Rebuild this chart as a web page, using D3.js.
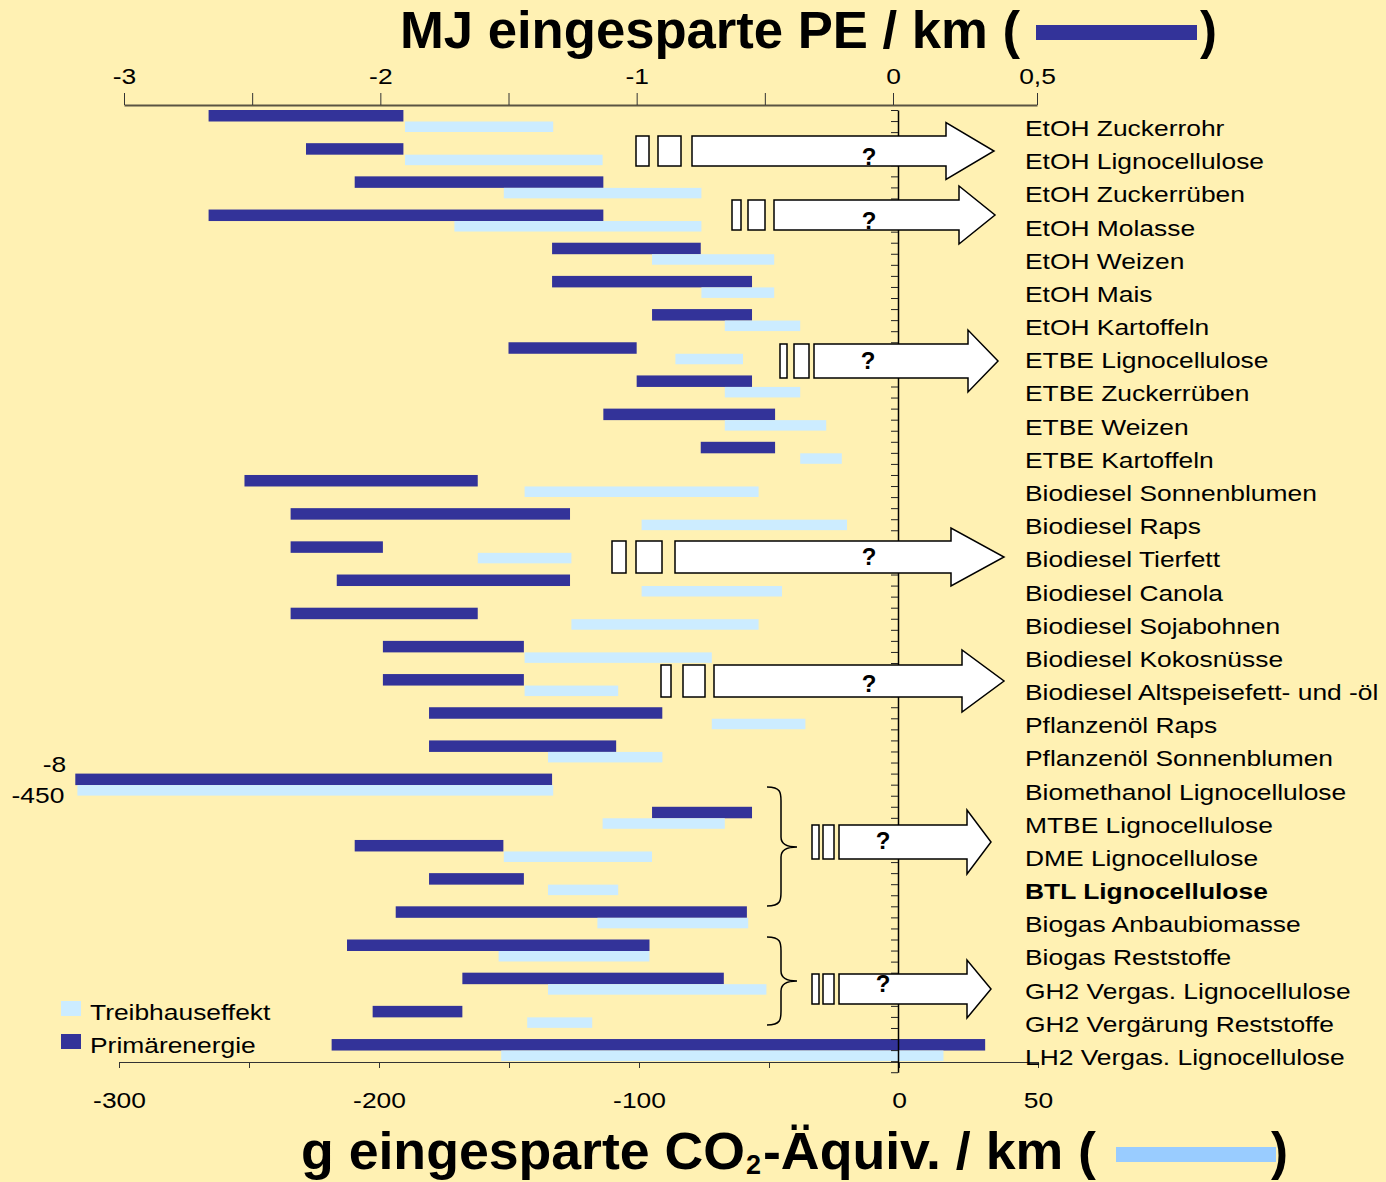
<!DOCTYPE html>
<html>
<head>
<meta charset="utf-8">
<script src="https://cdn.jsdelivr.net/npm/d3@7"></script>
<style>
  body { margin: 0; background: #fff1b3; }
  svg { display: block; }
  text { font-family: "Liberation Sans", Arial, sans-serif; fill: #000; }
</style>
</head>
<body>
<div id="chart"></div>
<script>
// categories (top to bottom)
const fuels = [
  "EtOH Zuckerrohr", "EtOH Lignocellulose", "EtOH Zuckerrüben", "EtOH Molasse",
  "EtOH Weizen", "EtOH Mais", "EtOH Kartoffeln", "ETBE Lignocellulose",
  "ETBE Zuckerrüben", "ETBE Weizen", "ETBE Kartoffeln", "Biodiesel Sonnenblumen",
  "Biodiesel Raps", "Biodiesel Tierfett", "Biodiesel Canola", "Biodiesel Sojabohnen",
  "Biodiesel Kokosnüsse", "Biodiesel Altspeisefett- und -öl", "Pflanzenöl Raps",
  "Pflanzenöl Sonnenblumen", "Biomethanol Lignocellulose", "MTBE Lignocellulose",
  "DME Lignocellulose", "BTL Lignocellulose", "Biogas Anbaubiomasse", "Biogas Reststoffe",
  "GH2 Vergas. Lignocellulose", "GH2 Vergärung Reststoffe", "LH2 Vergas. Lignocellulose"
];
const boldFuel = "BTL Lignocellulose";

// MJ eingesparte Primärenergie / km (range min..max)
const peMin = [-2.67, -2.29, -2.10, -2.67, -1.33, -1.33, -0.94, -1.50, -1.00, -1.13, -0.75,
  -2.53, -2.35, -2.35, -2.17, -2.35, -1.99, -1.99, -1.81, -1.81, -8,
  -0.94, -2.10, -1.81, -1.94, -2.13, -1.68, -2.03, -2.19];
const peMax = [-1.91, -1.91, -1.13, -1.13, -0.75, -0.55, -0.55, -1.00, -0.55, -0.46, -0.46,
  -1.62, -1.26, -1.99, -1.26, -1.62, -1.44, -1.44, -0.90, -1.08, -1.33,
  -0.55, -1.52, -1.44, -0.57, -0.95, -0.66, -1.68, 0.32];

// g eingesparte CO2-Äquivalente / km (range min..max)
const co2Min = [-190, -190, -152, -171, -95, -76, -67, -86, -67, -67, -38,
  -144, -99, -162, -99, -126, -144, -144, -72, -135, -450,
  -114, -152, -135, -116, -154, -135, -143, -153];
const co2Max = [-133, -114, -76, -76, -48, -48, -38, -60, -38, -28, -22,
  -54, -20, -126, -45, -54, -72, -108, -36, -91, -133,
  -67, -95, -108, -58, -96, -51, -118, 16];

const peTicks = [-3, -2.5, -2, -1.5, -1, -0.5, 0, 0.5];
const peLabels = [-3, -2, -1, 0, 0.5];
const co2Ticks = [-300, -250, -200, -150, -100, -50, 0, 50];
const co2Labels = [-300, -200, -100, 0, 50];
const peCut = -3.19;   // axis break for values off the chart
const co2Cut = -316;

const legendItems = [
  {label: "Treibhauseffekt", key: "co2"},
  {label: "Primärenergie", key: "pe"}
];

const width = 1386, height = 1182;
const darkBlue = "#333399", lightBlue = "#ccecff", titleBlue = "#99ccff";
const stretch = "scale(1.2,1)";

const de = d3.formatLocale({decimal: ",", thousands: ".", grouping: [3], currency: ["", " €"], minus: "-"});
const fmt = de.format("~g");

const svg = d3.select("#chart").append("svg")
  .attr("width", width)
  .attr("height", height);

svg.append("rect").attr("width", width).attr("height", height).attr("fill", "#fff1b3");

const xPE = d3.scaleLinear().domain([-3, 0, 0.5]).range([124, 893, 1037]);
const xG = d3.scaleLinear().domain([-300, 0, 50]).range([119, 899, 1038]);
const y = d3.scaleBand().domain(fuels).range([110, 110 + fuels.length * 33.18]);
const darkH = 11.5, lightH = 10.5;

const rows = fuels.map((f, i) => ({
  name: f, peMin: peMin[i], peMax: peMax[i], co2Min: co2Min[i], co2Max: co2Max[i]
}));

// bars
const bars = svg.append("g");
bars.selectAll("rect.pe")
  .data(rows)
  .join("rect")
    .attr("class", "pe")
    .attr("x", d => xPE(Math.max(d.peMin, peCut)))
    .attr("width", d => xPE(d.peMax) - xPE(Math.max(d.peMin, peCut)))
    .attr("y", d => y(d.name))
    .attr("height", darkH)
    .attr("fill", darkBlue);

bars.selectAll("rect.co2")
  .data(rows)
  .join("rect")
    .attr("class", "co2")
    .attr("x", d => xG(Math.max(d.co2Min, co2Cut)))
    .attr("width", d => xG(d.co2Max) - xG(Math.max(d.co2Min, co2Cut)))
    .attr("y", d => y(d.name) + darkH)
    .attr("height", lightH)
    .attr("fill", lightBlue);

// value labels for bars cut at the left edge
rows.filter(d => d.peMin < peCut).forEach(d => {
  svg.append("g")
    .attr("transform", `translate(${xPE(peCut) - 9},${y(d.name) - 2}) ${stretch}`)
    .append("text").attr("text-anchor", "end").attr("font-size", 22).text(fmt(d.peMin));
});
rows.filter(d => d.co2Min < co2Cut).forEach(d => {
  svg.append("g")
    .attr("transform", `translate(${xG(co2Cut) - 13},${y(d.name) + 29}) ${stretch}`)
    .append("text").attr("text-anchor", "end").attr("font-size", 22).text(fmt(d.co2Min));
});

// top axis (MJ)
const topAxis = svg.append("g")
  .attr("transform", "translate(0,105)")
  .call(d3.axisTop(xPE)
    .tickValues(peTicks)
    .tickSize(12)
    .tickSizeOuter(0)
    .tickPadding(9)
    .tickFormat(d => peLabels.includes(d) ? fmt(d) : ""));
topAxis.select(".domain").attr("stroke", "#5a5442").attr("stroke-width", 2);
topAxis.selectAll(".tick line").attr("stroke", "#333");
topAxis.selectAll(".tick text").attr("font-size", 22).attr("font-family", "Liberation Sans, Arial, sans-serif")
  .attr("fill", "#000").attr("transform", stretch);

// bottom axis (g CO2)
const bottomAxis = svg.append("g")
  .attr("transform", "translate(0,1062)")
  .call(d3.axisBottom(xG)
    .tickValues(co2Ticks)
    .tickSize(6)
    .tickSizeOuter(0)
    .tickPadding(24)
    .tickFormat(d => co2Labels.includes(d) ? fmt(d) : ""));
bottomAxis.select(".domain").attr("stroke", "#333").attr("stroke-width", 1.2);
bottomAxis.selectAll(".tick line").attr("stroke", "#333");
bottomAxis.selectAll(".tick text").attr("font-size", 22).attr("font-family", "Liberation Sans, Arial, sans-serif")
  .attr("fill", "#000").attr("transform", stretch);

// central zero axis with minor ticks (3 per row)
const yTick = d3.scaleLinear().domain([0, fuels.length * 3]).range(y.range());
const midAxis = svg.append("g")
  .attr("transform", `translate(${xG(0) - 1},0)`)
  .call(d3.axisLeft(yTick)
    .tickValues(d3.range(0, fuels.length * 3 + 1))
    .tickSize(7)
    .tickSizeOuter(0)
    .tickFormat(""));
midAxis.select(".domain").attr("stroke", "#000").attr("stroke-width", 1.5);
midAxis.selectAll(".tick line").attr("stroke", "#222");

// arrows with "?" (annotation layout)
const arrows = [
  {r1: [636, 649], r2: [658, 681], x0: 692, xb: 946, xt: 994, yc: 151, h: 30, H: 57, qx: 869, qy: 165},
  {r1: [732, 741], r2: [748, 765], x0: 774, xb: 959, xt: 995, yc: 215, h: 30, H: 58, qx: 869, qy: 229},
  {r1: [780, 787], r2: [794, 809], x0: 814, xb: 968, xt: 998, yc: 361, h: 34, H: 62, qx: 868, qy: 369},
  {r1: [612, 626], r2: [636, 662], x0: 675, xb: 951, xt: 1004, yc: 557, h: 32, H: 58, qx: 869, qy: 565},
  {r1: [661, 671], r2: [683, 705], x0: 714, xb: 962, xt: 1004, yc: 681, h: 32, H: 62, qx: 869, qy: 692},
  {r1: [812, 819], r2: [823, 834], x0: 839, xb: 967, xt: 991, yc: 842, h: 34, H: 64, qx: 883, qy: 849},
  {r1: [812, 819], r2: [823, 834], x0: 839, xb: 967, xt: 991, yc: 989, h: 30, H: 58, qx: 883, qy: 992}
];

const arrowG = svg.append("g").attr("stroke", "#000").attr("stroke-width", 1.5).attr("fill", "#fff");
arrows.forEach(a => {
  const t = a.yc - a.h / 2, b = a.yc + a.h / 2;
  [a.r1, a.r2].forEach(r => {
    arrowG.append("rect").attr("x", r[0]).attr("y", t).attr("width", r[1] - r[0]).attr("height", a.h);
  });
  arrowG.append("path")
    .attr("stroke-linejoin", "miter")
    .attr("d", `M${a.x0},${t}L${a.xb},${t}L${a.xb},${a.yc - a.H / 2}L${a.xt},${a.yc}` +
      `L${a.xb},${a.yc + a.H / 2}L${a.xb},${b}L${a.x0},${b}Z`);
  svg.append("text")
    .attr("x", a.qx).attr("y", a.qy)
    .attr("text-anchor", "middle")
    .attr("font-size", 24).attr("font-weight", "bold")
    .text("?");
});

// curly braces
const braces = [
  {x0: 767, xs: 781, x1: 797, y0: 787, ym: 847, y1: 906},
  {x0: 767, xs: 781, x1: 797, y0: 937, ym: 981, y1: 1025}
];
svg.append("g").selectAll("path")
  .data(braces)
  .join("path")
    .attr("fill", "none").attr("stroke", "#000").attr("stroke-width", 1.5)
    .attr("d", d => `M${d.x0},${d.y0}C${d.xs},${d.y0} ${d.xs},${d.y0 + 6} ${d.xs},${d.y0 + 14}` +
      `L${d.xs},${d.ym - 10}C${d.xs},${d.ym - 3} ${d.xs + 6},${d.ym} ${d.x1},${d.ym}` +
      `C${d.xs + 6},${d.ym} ${d.xs},${d.ym + 3} ${d.xs},${d.ym + 10}` +
      `L${d.xs},${d.y1 - 14}C${d.xs},${d.y1 - 6} ${d.xs},${d.y1} ${d.x0},${d.y1}`);

// category labels on the right
const labels = svg.append("g").attr("transform", `translate(1025,0) ${stretch}`);
labels.selectAll("text")
  .data(fuels)
  .join("text")
    .attr("x", 0)
    .attr("y", d => y(d) + 26)
    .attr("font-size", 22)
    .attr("font-weight", d => d === boldFuel ? "bold" : "normal")
    .text(d => d);

// legend
const legend = svg.append("g");
legendItems.forEach((item, i) => {
  const ly = 1001 + i * 33;
  legend.append("rect").attr("x", 61).attr("y", ly).attr("width", 20).attr("height", 15)
    .attr("fill", item.key === "pe" ? darkBlue : lightBlue);
  legend.append("g").attr("transform", `translate(90,${ly + 19}) ${stretch}`)
    .append("text").attr("font-size", 22).text(item.label);
});

// titles
svg.append("text")
  .attr("x", 400).attr("y", 48)
  .attr("font-size", 51).attr("font-weight", "bold")
  .attr("textLength", 620).attr("lengthAdjust", "spacingAndGlyphs")
  .text("MJ eingesparte PE / km (");
svg.append("rect").attr("x", 1036).attr("y", 25).attr("width", 161).attr("height", 15).attr("fill", darkBlue);
svg.append("text").attr("x", 1200).attr("y", 48).attr("font-size", 51).attr("font-weight", "bold").text(")");

svg.append("text")
  .attr("x", 301).attr("y", 1169)
  .attr("font-size", 51).attr("font-weight", "bold")
  .attr("textLength", 444).attr("lengthAdjust", "spacingAndGlyphs")
  .text("g eingesparte CO");
svg.append("text")
  .attr("x", 746).attr("y", 1174)
  .attr("font-size", 27).attr("font-weight", "bold")
  .text("2");
svg.append("text")
  .attr("x", 763).attr("y", 1169)
  .attr("font-size", 51).attr("font-weight", "bold")
  .attr("textLength", 333).attr("lengthAdjust", "spacingAndGlyphs")
  .text("-Äquiv. / km (");
svg.append("rect").attr("x", 1116).attr("y", 1147).attr("width", 160).attr("height", 15).attr("fill", titleBlue);
svg.append("text").attr("x", 1271).attr("y", 1169).attr("font-size", 51).attr("font-weight", "bold").text(")");
</script>
</body>
</html>
